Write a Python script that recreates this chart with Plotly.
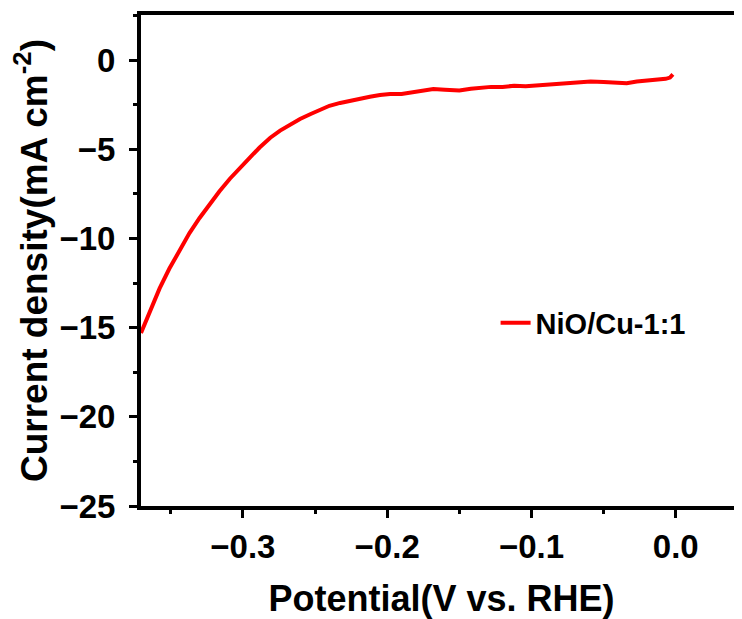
import plotly.graph_objects as go

potential = [-0.3706, -0.365, -0.3577, -0.351, -0.3439, -0.337, -0.330, -0.323, -0.3162, -0.309,
             -0.3023, -0.295, -0.2884, -0.281, -0.2742, -0.267, -0.2604, -0.253, -0.2465, -0.240,
             -0.2326, -0.226, -0.2188, -0.212, -0.205, -0.198, -0.190, -0.182, -0.175, -0.168,
             -0.160, -0.150, -0.142, -0.135, -0.128, -0.120, -0.112, -0.104, -0.094, -0.085,
             -0.076, -0.068, -0.059, -0.050, -0.042, -0.034, -0.027, -0.020, -0.013, -0.007,
             -0.004, -0.002]
current = [-15.3, -14.2, -12.8, -11.7, -10.7, -9.7, -8.85, -8.05, -7.35, -6.65,
           -6.05, -5.45, -4.9, -4.35, -3.95, -3.6, -3.3, -3.02, -2.76, -2.56,
           -2.4, -2.27, -2.13, -2.05, -1.96, -1.9, -1.9, -1.8, -1.72, -1.62,
           -1.66, -1.7, -1.6, -1.55, -1.5, -1.5, -1.44, -1.46, -1.4, -1.38,
           -1.32, -1.26, -1.2, -1.22, -1.25, -1.3, -1.2, -1.15, -1.12, -1.05,
           -0.98, -0.8]
series_name = "NiO/Cu-1:1"
x_ticks = [-0.3, -0.2, -0.1, 0.0]
y_ticks = [0, -5, -10, -15, -20, -25]

FONT = "Arial, Liberation Sans, sans-serif"

fig = go.Figure()
fig.add_trace(go.Scatter(x=potential, y=current, mode="lines", name=series_name,
                         line=dict(color="#ff0000", width=4)))

# page body has an 8px margin, so the figure is sized/offset to compensate
fig.update_layout(
    width=734, height=611,
    margin=dict(l=133, r=0, t=7, b=113),
    paper_bgcolor="white", plot_bgcolor="white",
    font=dict(family=FONT, color="black"),
    showlegend=True,
    legend=dict(x=0.59, y=0.373, xanchor="left", yanchor="middle",
                bgcolor="rgba(0,0,0,0)", borderwidth=0,
                font=dict(size=29, family=FONT, weight="bold", color="black")),
)
fig.update_xaxes(
    range=[-0.3706, 0.0459], showgrid=False, zeroline=False,
    showline=True, linecolor="black", linewidth=4, mirror=True,
    ticks="outside", ticklen=8, tickwidth=3, tickcolor="black",
    tickvals=x_ticks, ticktext=["\u22120.3", "\u22120.2", "\u22120.1", "0.0"],
    tickfont=dict(size=33, family=FONT, weight="bold"),
    ticklabelstandoff=0,
    minor=dict(ticks="outside", ticklen=4, tickwidth=3, tickcolor="black", dtick=0.05, tick0=0),
    title=dict(text="Potential(V vs. RHE)", font=dict(size=36, family=FONT, weight="bold"), standoff=28),
)
fig.update_yaxes(
    range=[-25, 2.53], showgrid=False, zeroline=False,
    showline=True, linecolor="black", linewidth=4, mirror=False,
    ticks="outside", ticklen=8, tickwidth=3, tickcolor="black",
    tickvals=y_ticks, ticktext=["0", "\u22125", "\u221210", "\u221215", "\u221220", "\u221225"],
    tickfont=dict(size=33, family=FONT, weight="bold"),
    ticklabelstandoff=7,
    minor=dict(ticks="outside", ticklen=4, tickwidth=3, tickcolor="black", dtick=2.5, tick0=0),
    title=dict(text="Current density(mA cm<sup>-2</sup>)", font=dict(size=37, family=FONT, weight="bold"), standoff=12),
)

fig.write_html("out.html")
